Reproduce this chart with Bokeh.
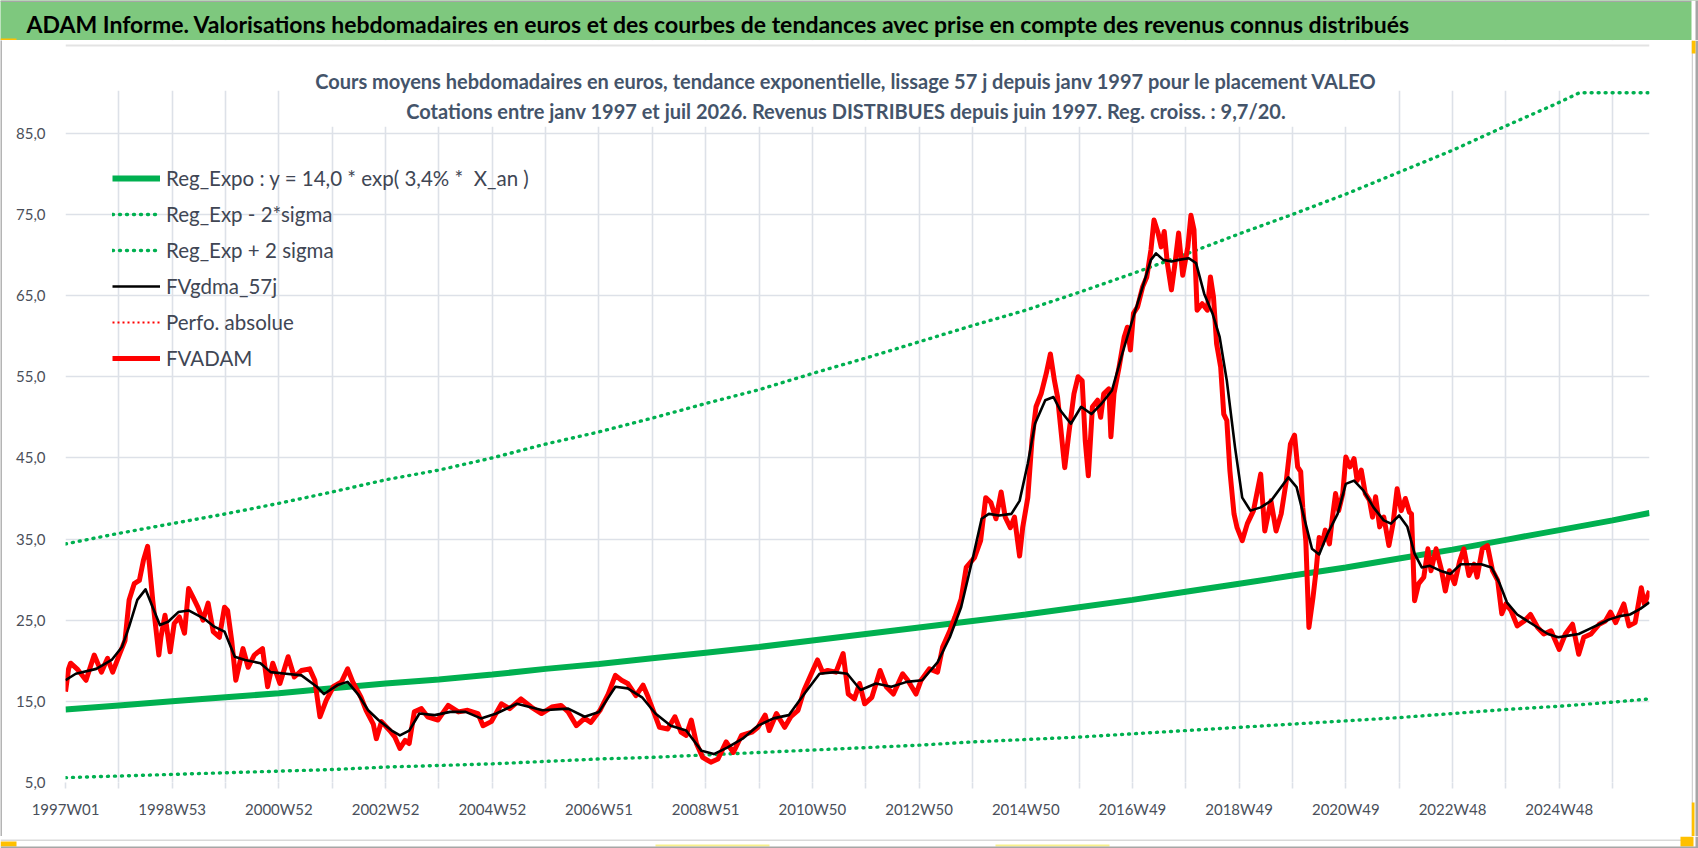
from bokeh.plotting import figure
from bokeh.models import (Range1d, FixedTicker, Label, Legend, LegendItem, BoxAnnotation)
from bokeh.layouts import column, row
from bokeh.embed import file_html
from bokeh.resources import INLINE
from bokeh.core.properties import value

FONT = "Lato"

# ---------------- data ----------------
x_labels = ["1997W01", "1998W53", "2000W52", "2002W52", "2004W52", "2006W51", "2008W51",
            "2010W50", "2012W50", "2014W50", "2016W49", "2018W49", "2020W49", "2022W48", "2024W48"]
n_weeks = 1544
y_ticks = [5, 15, 25, 35, 45, 55, 65, 75, 85]

trend_weeks = [0, 52, 104, 156, 208, 260, 312, 364, 416, 468, 520, 572, 624, 676, 728, 780, 832,
               884, 936, 988, 1040, 1092, 1144, 1196, 1248, 1300, 1352, 1404, 1456, 1508, 1544]
trend_values = [14.0, 14.5, 15.0, 15.5, 16.0, 16.6, 17.2, 17.7, 18.3, 19.0, 19.6, 20.3, 21.0, 21.7,
                22.5, 23.3, 24.1, 24.9, 25.7, 26.6, 27.5, 28.5, 29.5, 30.5, 31.5, 32.6, 33.7, 34.9,
                36.1, 37.3, 38.2]
low_values = [5.6, 5.8, 6.0, 6.2, 6.4, 6.6, 6.9, 7.1, 7.3, 7.6, 7.9, 8.1, 8.4, 8.7, 9.0, 9.3, 9.6,
              10.0, 10.3, 10.6, 11.0, 11.4, 11.8, 12.2, 12.6, 13.0, 13.5, 14.0, 14.4, 14.9, 15.3]
high_weeks = [0, 52, 104, 156, 208, 260, 312, 364, 416, 468, 520, 572, 624, 676, 728, 780, 832,
              884, 936, 988, 1040, 1092, 1144, 1196, 1248, 1300, 1352, 1404, 1456, 1476, 1544]
high_values = [34.4, 35.7, 36.9, 38.1, 39.4, 40.8, 42.3, 43.5, 45.0, 46.7, 48.2, 49.9, 51.7, 53.4,
               55.4, 57.3, 59.3, 61.3, 63.2, 65.4, 67.7, 70.1, 72.6, 75.0, 77.5, 80.2, 82.9, 85.9,
               88.8, 90.0, 90.0]

adam_weeks = [0, 3, 5, 12, 20, 28, 35, 41, 46, 53, 58, 62, 67, 72, 76, 80, 82, 85, 91, 93, 97, 102,
              106, 111, 116, 120, 124, 129, 134, 139, 144, 150, 155, 158, 162, 166, 173, 178, 184,
              192, 197, 202, 209, 217, 223, 230, 238, 243, 248, 254, 261, 269, 275, 280, 288, 293,
              300, 303, 308, 316, 321, 326, 331, 335, 340, 347, 353, 363, 373, 383, 392, 402, 407,
              415, 425, 433, 444, 454, 464, 474, 483, 490, 498, 506, 512, 521, 529, 536, 542, 548,
              556, 563, 568, 574, 579, 587, 594, 600, 605, 610, 615, 621, 629, 636, 644, 651, 659,
              669, 675, 682, 686, 693, 701, 707, 714, 720, 727, 733, 738, 743, 751, 758, 763, 769,
              774, 779, 786, 794, 800, 807, 816, 821, 829, 834, 842, 850, 855, 862, 867, 873, 878,
              886, 892, 897, 902, 907, 912, 916, 921, 925, 930, 933, 938, 942, 946, 951, 956, 960,
              964, 967, 970, 974, 978, 983, 987, 991, 994, 997, 1001, 1006, 1009, 1012, 1017, 1019,
              1022, 1027, 1032, 1035, 1038, 1041, 1045, 1050, 1054, 1058, 1061, 1065, 1068, 1071,
              1074, 1078, 1081, 1085, 1089, 1094, 1097, 1100, 1103, 1108, 1113, 1116, 1119, 1122,
              1126, 1129, 1132, 1135, 1139, 1142, 1147, 1152, 1158, 1165, 1169, 1175, 1180, 1185,
              1190, 1194, 1198, 1201, 1204, 1206, 1209, 1212, 1216, 1219, 1222, 1225, 1228, 1232,
              1235, 1238, 1241, 1245, 1248, 1252, 1256, 1259, 1263, 1267, 1271, 1274, 1277, 1281,
              1285, 1290, 1294, 1298, 1302, 1306, 1310, 1312, 1315, 1319, 1324, 1328, 1331, 1336,
              1341, 1345, 1349, 1354, 1359, 1363, 1368, 1373, 1376, 1381, 1386, 1391, 1396, 1400,
              1404, 1409, 1415, 1422, 1428, 1435, 1441, 1448, 1456, 1462, 1469, 1475, 1480, 1487,
              1495, 1501, 1506, 1511, 1519, 1524, 1530, 1536, 1539, 1544]
adam_values = [16.2, 19.0, 19.7, 18.9, 17.6, 20.7, 18.6, 20.3, 18.6, 20.9, 22.5, 27.5, 29.5, 29.9,
               32.4, 34.1, 31.6, 27.5, 20.7, 22.9, 25.6, 21.1, 24.6, 25.4, 23.4, 28.9, 27.9, 26.6,
               25.0, 27.1, 23.6, 22.9, 26.6, 26.2, 22.5, 17.6, 21.5, 19.2, 20.7, 21.5, 16.8, 19.7,
               17.2, 20.5, 18.0, 18.8, 19.0, 17.6, 13.1, 15.1, 16.8, 17.4, 19.0, 17.4, 15.5, 13.9,
               12.2, 10.4, 12.5, 11.4, 10.6, 9.2, 10.2, 9.8, 13.7, 14.1, 13.1, 12.7, 14.5, 13.7,
               13.9, 13.5, 12.0, 12.5, 14.7, 14.1, 15.3, 14.3, 13.5, 14.3, 14.5, 13.7, 12.0, 12.9,
               12.4, 13.9, 15.9, 18.2, 17.6, 17.2, 15.7, 17.0, 15.5, 13.5, 11.8, 11.6, 13.1, 11.2,
               10.8, 12.7, 9.8, 8.1, 7.5, 7.9, 10.0, 8.7, 10.8, 11.2, 11.8, 13.3, 11.4, 13.5, 11.8,
               13.1, 13.9, 16.4, 18.4, 20.1, 18.6, 18.8, 18.6, 20.9, 15.9, 15.3, 17.2, 14.7, 15.5,
               18.8, 16.8, 15.9, 18.4, 17.6, 15.9, 17.6, 19.0, 18.6, 21.7, 23.7, 25.4, 27.6, 31.5,
               32.7, 34.8, 40.1, 39.5, 37.5, 40.8, 37.7, 36.4, 37.7, 32.9, 36.4, 40.1, 47.1, 51.3,
               52.9, 55.4, 57.8, 54.5, 52.5, 48.8, 43.8, 48.0, 52.9, 55.0, 54.5, 47.1, 42.8, 51.3,
               52.1, 50.0, 52.9, 53.5, 47.6, 52.9, 56.2, 59.9, 61.1, 58.3, 62.8, 63.6, 66.1, 67.3,
               70.6, 74.3, 72.7, 71.0, 72.9, 69.0, 65.7, 68.5, 72.7, 67.5, 71.0, 74.9, 73.1, 63.2,
               64.0, 63.2, 67.3, 64.8, 59.1, 56.2, 50.4, 49.6, 43.4, 38.1, 36.4, 34.8, 36.9, 38.5,
               43.0, 36.0, 39.7, 36.0, 38.1, 42.2, 46.7, 47.8, 43.9, 43.3, 38.9, 34.8, 24.1, 27.8,
               31.1, 35.2, 34.4, 36.1, 34.4, 37.7, 40.6, 38.5, 40.6, 45.1, 43.9, 44.9, 42.2, 43.5,
               40.6, 39.8, 37.7, 40.2, 36.5, 37.7, 34.2, 36.9, 41.2, 38.5, 40.0, 38.3, 38.1, 27.4,
               29.5, 30.3, 33.8, 31.1, 33.8, 31.3, 28.6, 31.1, 29.5, 32.3, 33.8, 30.5, 31.9, 30.3,
               33.8, 34.2, 31.1, 29.9, 25.8, 27.0, 26.2, 24.3, 24.9, 25.7, 24.1, 23.3, 23.7, 21.4,
               23.3, 24.5, 20.8, 22.9, 23.3, 24.5, 24.9, 26.0, 24.7, 27.0, 24.3, 24.7, 29.0, 27.0,
               28.6]

gdma_weeks = [0, 10, 30, 45, 55, 62, 70, 78, 85, 92, 100, 110, 120, 135, 145, 155, 165, 175, 190,
              200, 215, 230, 245, 252, 265, 275, 285, 295, 305, 318, 326, 335, 345, 360, 375, 390,
              405, 420, 440, 465, 490, 506, 520, 536, 548, 562, 575, 590, 605, 620, 632, 645, 660,
              675, 690, 705, 720, 735, 750, 762, 775, 790, 805, 820, 835, 850, 862, 873, 885, 893,
              900, 910, 922, 930, 938, 945, 955, 963, 970, 980, 990, 1000, 1010, 1020, 1030, 1040,
              1050, 1058, 1063, 1070, 1078, 1085, 1095, 1102, 1110, 1118, 1125, 1132, 1140, 1147,
              1155, 1165, 1175, 1185, 1192, 1200, 1208, 1215, 1222, 1230, 1240, 1248, 1256, 1265,
              1275, 1285, 1292, 1300, 1308, 1315, 1322, 1330, 1340, 1350, 1360, 1370, 1380, 1390,
              1398, 1405, 1415, 1425, 1435, 1445, 1455, 1465, 1475, 1485, 1495, 1505, 1515, 1525,
              1535, 1544]
gdma_values = [17.6, 18.4, 19.0, 20.1, 21.7, 24.2, 27.5, 28.8, 26.6, 24.4, 24.8, 26.0, 26.2, 25.2,
               24.2, 23.6, 20.5, 20.1, 19.7, 18.6, 18.4, 18.2, 16.8, 15.9, 17.0, 17.4, 15.9, 13.9,
               12.7, 11.4, 10.8, 11.4, 13.5, 13.3, 13.7, 13.7, 12.9, 13.5, 14.7, 13.9, 14.1, 13.1,
               13.7, 16.8, 16.6, 15.5, 13.5, 12.0, 11.4, 8.9, 8.5, 9.3, 10.4, 12.0, 12.9, 13.3,
               15.9, 18.4, 18.6, 18.4, 16.4, 17.2, 16.8, 17.4, 17.6, 19.8, 22.9, 26.6, 33.0, 37.5,
               38.1, 37.9, 38.1, 39.7, 44.3, 49.2, 52.1, 52.5, 50.8, 49.2, 51.3, 50.4, 51.7, 53.3,
               57.8, 62.0, 66.1, 69.4, 70.2, 69.4, 69.2, 69.4, 69.6, 69.0, 65.2, 62.8, 59.9, 54.5,
               46.3, 40.1, 38.5, 38.9, 39.7, 41.4, 42.6, 41.4, 37.3, 33.8, 33.1, 35.6, 38.1, 41.8,
               42.2, 41.0, 38.9, 37.3, 36.9, 37.9, 36.5, 33.2, 31.5, 31.7, 31.1, 30.7, 31.9, 31.9,
               31.9, 31.5, 29.5, 27.2, 25.7, 24.9, 24.1, 23.3, 22.9, 23.1, 23.3, 23.9, 24.5, 25.1,
               25.5, 25.7, 26.4, 27.2]

# "Perfo. absolue" has no visible points on this chart
perf_weeks = [0, 1544]
perf_values = [float("nan"), float("nan")]

main_title = ("ADAM Informe. Valorisations hebdomadaires en euros et des courbes de tendances "
              "avec prise en compte des revenus connus distribués")
sub_title_1 = ("Cours moyens hebdomadaires en euros, tendance exponentielle, lissage 57 j depuis "
               "janv 1997 pour le placement VALEO")
sub_title_2 = ("Cotations entre janv 1997 et juil 2026. Revenus DISTRIBUES depuis juin 1997. "
               "Reg. croiss. : 9,7/20.")
legend_labels = ["Reg_Expo : y = 14,0 * exp( 3,4% *  X_an )", "Reg_Exp - 2*sigma",
                 "Reg_Exp + 2 sigma", "FVgdma_57j", "Perfo. absolue", "FVADAM"]

# ---------------- styles ----------------
GREEN = "#00B050"
GRID = "#DDE1E8"
TXT = "#4A4F5A"
LEG_TXT = "#404654"
TITLE_TXT = "#44546A"
BANNER = "#7EC87E"
EDGE = "#A6A6A6"
W = 1698
TOP_H = 40
STRIP_H = 12
MAIN_H = 848 - TOP_H - STRIP_H
LEFT_W = 2
RIGHT_W = 7
MAIN_W = W - LEFT_W - RIGHT_W
Y_TOP = 96.43


def deco(fig, left, right, bottom, top_, color):
    fig.add_layout(BoxAnnotation(left=left, right=right, bottom=bottom, top=top_,
                                 fill_color=color, fill_alpha=1, line_color=None))


def bare_figure(width, height, bg):
    f = figure(width=width, height=height, x_range=Range1d(0, width), y_range=Range1d(0, height),
               toolbar_location=None, output_backend="svg", min_border=0,
               x_axis_location=None, y_axis_location=None, title=None)
    f.frame_align = False
    f.grid.visible = False
    f.outline_line_color = None
    f.background_fill_color = bg
    f.border_fill_color = bg
    return f


# ---------------- top banner ----------------
top = bare_figure(W, TOP_H, BANNER)
deco(top, 0, W, TOP_H - 1.5, TOP_H, EDGE)
deco(top, 1691, W, 0, TOP_H, "white")
deco(top, 1695, W, 0, TOP_H, EDGE)
deco(top, 0, 16, 0, 2, "#FFC000")
top.add_layout(Label(x=26, y=TOP_H - 23, text=main_title, text_font=FONT,
                     text_font_size="23px", text_font_style="bold", text_color="black",
                     text_baseline="middle"))

# ---------------- main chart ----------------
p = figure(width=MAIN_W, height=MAIN_H, x_range=Range1d(0, n_weeks), y_range=Range1d(5, Y_TOP),
           toolbar_location=None, output_backend="svg", title=None,
           min_border_left=65 - LEFT_W, min_border_right=LEFT_W + MAIN_W - 1649,
           min_border_top=0, min_border_bottom=MAIN_H - 742)
p.frame_align = False
p.outline_line_color = None
p.background_fill_color = "white"
p.border_fill_color = "white"

week_ticks = list(range(0, n_weeks - 30, 52))
overrides = {t: "" for t in week_ticks}
for i, lab in enumerate(x_labels):
    overrides[i * 104] = lab
p.xaxis.ticker = FixedTicker(ticks=week_ticks)
p.xaxis.major_label_overrides = overrides
p.xaxis.axis_line_color = None
p.xaxis.major_tick_line_color = GRID
p.xaxis.major_tick_line_width = 1.6
p.xaxis.major_tick_out = 6
p.xaxis.major_tick_in = 0
p.xaxis.minor_tick_line_color = None
p.xaxis.major_label_standoff = 11
p.xaxis.major_label_text_font = FONT
p.xaxis.major_label_text_font_size = "15px"
p.xaxis.major_label_text_color = TXT

p.yaxis.ticker = FixedTicker(ticks=y_ticks)
p.yaxis.major_label_overrides = {t: f"{t},0" for t in y_ticks}
p.yaxis.axis_line_color = None
p.yaxis.major_tick_line_color = None
p.yaxis.minor_tick_line_color = None
p.yaxis.major_label_standoff = 14
p.yaxis.major_label_text_font = FONT
p.yaxis.major_label_text_font_size = "15px"
p.yaxis.major_label_text_color = TXT

p.xgrid.ticker = FixedTicker(ticks=week_ticks)
p.ygrid.ticker = FixedTicker(ticks=y_ticks)
for g in (p.xgrid, p.ygrid):
    g.grid_line_color = GRID
    g.grid_line_width = 1.6

r_trend = p.line(trend_weeks, trend_values, line_color=GREEN, line_width=6)
r_low = p.line(trend_weeks, low_values, line_color=GREEN, line_width=3.4,
               line_dash="1 6", line_cap="round")
r_high = p.line(high_weeks, high_values, line_color=GREEN, line_width=3.4,
                line_dash="1 6", line_cap="round")
r_perf = p.line(perf_weeks, perf_values, line_color="#FF0000", line_width=2, line_dash="2 3")
r_adam = p.line(adam_weeks, adam_values, line_color="#FF0000", line_width=5,
                line_join="round")
r_gdma = p.line(gdma_weeks, gdma_values, line_color="black", line_width=2.6,
                line_join="round")

# blank band above the plot area, separator line and the title's white box
p.add_layout(BoxAnnotation(left=0, right=n_weeks, bottom=90.25, top=Y_TOP, fill_color="white",
                           fill_alpha=1, line_color=None))
p.add_layout(BoxAnnotation(left=0, right=n_weeks, bottom=95.70, top=95.95, fill_color="#E3E3E3",
                           fill_alpha=1, line_color=None))
p.add_layout(BoxAnnotation(left=229, right=1292, bottom=85.8, top=90.3, fill_color="white",
                           fill_alpha=1, line_color=None))
p.add_layout(Label(x=761, y=91.38, text=sub_title_1, text_align="center",
                   text_baseline="middle", text_font=FONT, text_font_size="20px",
                   text_font_style="bold", text_color=TITLE_TXT))
p.add_layout(Label(x=761, y=87.69, text=sub_title_2, text_align="center",
                   text_baseline="middle", text_font=FONT, text_font_size="20px",
                   text_font_style="bold", text_color=TITLE_TXT))

renderers = [r_trend, r_low, r_high, r_gdma, r_perf, r_adam]
legend = Legend(items=[LegendItem(label=value(l), renderers=[r])
                       for l, r in zip(legend_labels, renderers)],
                location=(47, 412), orientation="vertical",
                glyph_width=48, glyph_height=24, label_height=24, spacing=12,
                label_standoff=6, padding=0, margin=0,
                label_text_font=FONT, label_text_font_size="20.5px",
                label_text_color=LEG_TXT, label_text_baseline="middle",
                background_fill_alpha=0, border_line_color=None)
p.add_layout(legend)

# ---------------- side edges of the chart area ----------------
left_edge = bare_figure(LEFT_W, MAIN_H, "#B4B4B4")
right_edge = bare_figure(RIGHT_W, MAIN_H, "white")
deco(right_edge, 0, 1.5, 0, MAIN_H, "#D0D0D0")
deco(right_edge, 4, RIGHT_W, 0, MAIN_H, EDGE)
deco(right_edge, 0, 3, 0, 34, "#FFC000")
deco(right_edge, 0, 4, MAIN_H - 13, MAIN_H, "#FFC000")

# ---------------- bottom edge of the chart area ----------------
strip = bare_figure(W, STRIP_H, "white")
deco(strip, 0, 1691, STRIP_H - 4.5, STRIP_H - 3, "#D9D9D9")
deco(strip, 0, 16, 2, 7, "#FFC000")
deco(strip, 655, 769, 2, 4, "#F7F08A")
deco(strip, 995, 1109, 2, 4, "#F7F08A")
deco(strip, 1680, 1693, 2, STRIP_H, "#FFC000")
deco(strip, 0, W, 0, 2, EDGE)
deco(strip, 1695, W, 0, STRIP_H, EDGE)

layout = column(top, row(left_edge, p, right_edge, spacing=0), strip, spacing=0)
open("out.html", "w").write(file_html(layout, INLINE))
